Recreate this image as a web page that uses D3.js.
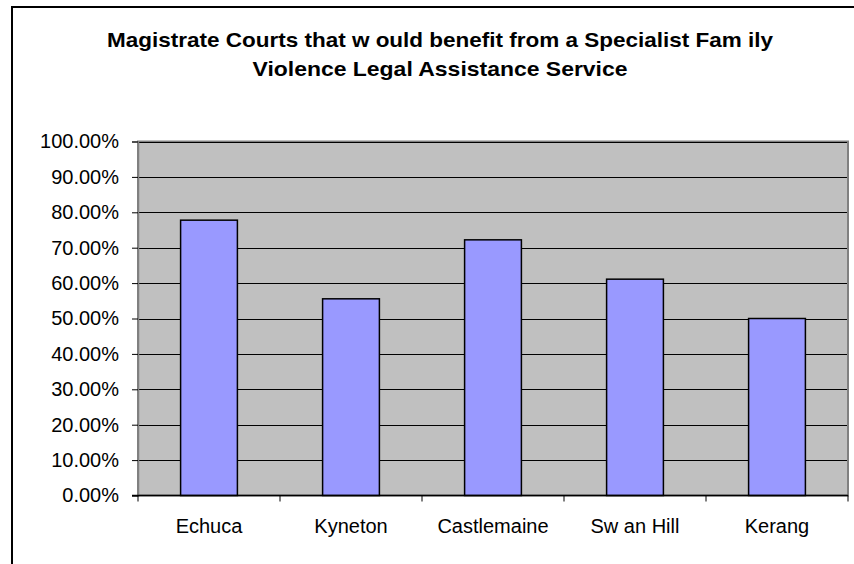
<!DOCTYPE html>
<html>
<head>
<meta charset="utf-8">
<script src="https://cdn.jsdelivr.net/npm/d3@7"></script>
<style>
  body { margin: 0; background: #fff; }
  svg { display: block; font-family: "Liberation Sans", Arial, sans-serif; }
</style>
</head>
<body>
<svg id="chart" width="854" height="564"></svg>
<script>
"use strict";

const courts = ["Echuca", "Kyneton", "Castlemaine", "Sw an Hill", "Kerang"];
const shares = [0.7778, 0.5556, 0.7222, 0.6111, 0.5];
const yTicks = [0, 0.1, 0.2, 0.3, 0.4, 0.5, 0.6, 0.7, 0.8, 0.9, 1.0];
const titleLines = ["Magistrate Courts that w ould benefit from a Specialist Fam ily",
                    "Violence Legal Assistance Service"];

const plotLeft = 138, plotRight = 848, plotTop = 141.5, plotBottom = 495.5;

const svg = d3.select("#chart");

// outer chart border (runs off the page on right / bottom)
svg.append("rect")
    .attr("x", 12).attr("y", 7)
    .attr("width", 900).attr("height", 600)
    .attr("fill", "#fff").attr("stroke", "#000").attr("stroke-width", 2);

// title - squeezed to the width it has in the original
const titleWidths = [666, 375];
svg.selectAll("text.title")
    .data(titleLines)
    .join("text")
    .attr("class", "title")
    .attr("x", 440)
    .attr("y", (d, i) => 47 + i * 28.5)
    .attr("text-anchor", "middle")
    .attr("font-size", 21)
    .attr("font-weight", "bold")
    .attr("textLength", (d, i) => titleWidths[i])
    .attr("lengthAdjust", "spacingAndGlyphs")
    .text(d => d);

const x = d3.scaleBand()
    .domain(courts)
    .range([plotLeft, plotRight])
    .paddingInner(0.6)
    .paddingOuter(0.3);

const y = d3.scaleLinear()
    .domain([0, 1])
    .range([plotBottom, plotTop]);

// plot area
svg.append("rect")
    .attr("x", plotLeft).attr("y", plotTop)
    .attr("width", plotRight - plotLeft).attr("height", plotBottom - plotTop)
    .attr("fill", "#c0c0c0").attr("stroke", "#808080").attr("stroke-width", 2);

// gridlines
svg.append("g")
    .selectAll("line")
    .data(yTicks.slice(1))
    .join("line")
    .attr("x1", plotLeft).attr("x2", plotRight - 1)
    .attr("y1", d => Math.round(y(d)) + 0.5).attr("y2", d => Math.round(y(d)) + 0.5)
    .attr("stroke", "#000").attr("stroke-width", 1);

// bars
svg.append("g")
    .selectAll("rect")
    .data(shares)
    .join("rect")
    .attr("x", (d, i) => x(courts[i]))
    .attr("y", d => y(d))
    .attr("width", x.bandwidth())
    .attr("height", d => plotBottom - y(d))
    .attr("fill", "#9999ff")
    .attr("stroke", "#000").attr("stroke-width", 1.5);

// y axis
const yAxis = svg.append("g")
    .attr("transform", `translate(${plotLeft},0)`)
    .call(d3.axisLeft(y).tickValues(yTicks).tickSize(6).tickPadding(13)
        .tickFormat(d => (d * 100).toFixed(2) + "%"));
yAxis.select(".domain").attr("stroke", "#808080").attr("stroke-width", 1.5);
yAxis.selectAll(".tick line").attr("stroke", "#000");
yAxis.selectAll("text")
    .attr("font-size", 20)
    .attr("font-family", "Liberation Sans, Arial, sans-serif")
    .attr("fill", "#000");

// x axis with ticks at category boundaries
const xAxisG = svg.append("g");
xAxisG.append("line")
    .attr("x1", plotLeft - 6).attr("x2", plotRight)
    .attr("y1", plotBottom).attr("y2", plotBottom)
    .attr("stroke", "#000").attr("stroke-width", 1.5);
const step = x.step();
xAxisG.selectAll("line.sep")
    .data(d3.range(courts.length + 1))
    .join("line")
    .attr("class", "sep")
    .attr("x1", i => plotLeft + i * step).attr("x2", i => plotLeft + i * step)
    .attr("y1", plotBottom).attr("y2", plotBottom + 6)
    .attr("stroke", "#000");
xAxisG.selectAll("text")
    .data(courts)
    .join("text")
    .attr("x", d => x(d) + x.bandwidth() / 2)
    .attr("y", 533)
    .attr("text-anchor", "middle")
    .attr("font-size", 20)
    .text(d => d);
</script>
</body>
</html>
